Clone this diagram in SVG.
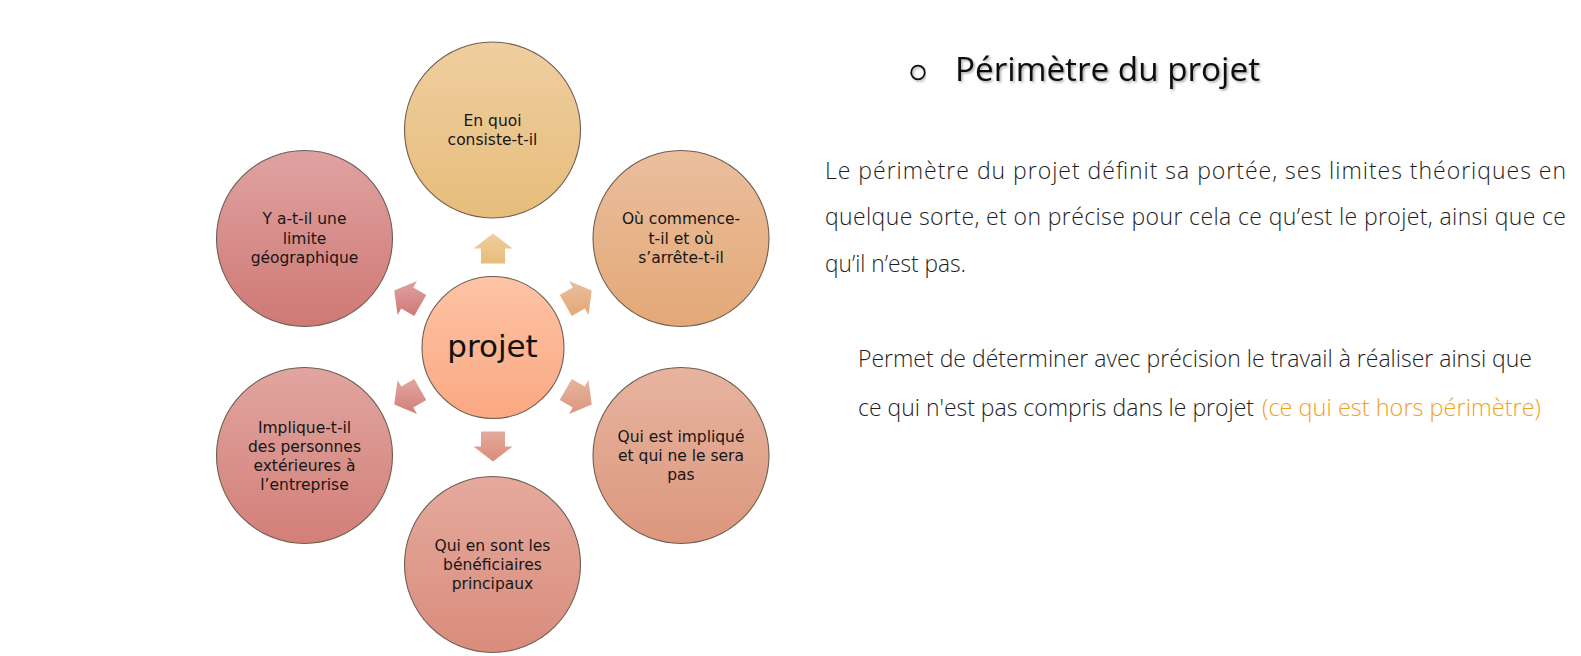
<svg xmlns="http://www.w3.org/2000/svg" width="1581" height="656" viewBox="0 0 1581 656">
<defs>
<linearGradient id="gTop" x1="0" y1="0" x2="0" y2="1"><stop offset="0" stop-color="#EFCE9F"/><stop offset="1" stop-color="#E6BD7B"/></linearGradient>
<linearGradient id="gTR" x1="0" y1="0" x2="0" y2="1"><stop offset="0" stop-color="#EBBE9D"/><stop offset="1" stop-color="#E3A877"/></linearGradient>
<linearGradient id="gBR" x1="0" y1="0" x2="0" y2="1"><stop offset="0" stop-color="#E7B49F"/><stop offset="1" stop-color="#DC967D"/></linearGradient>
<linearGradient id="gB" x1="0" y1="0" x2="0" y2="1"><stop offset="0" stop-color="#E5AA9D"/><stop offset="1" stop-color="#D98C7B"/></linearGradient>
<linearGradient id="gBL" x1="0" y1="0" x2="0" y2="1"><stop offset="0" stop-color="#E1A5A0"/><stop offset="1" stop-color="#D37F78"/></linearGradient>
<linearGradient id="gTL" x1="0" y1="0" x2="0" y2="1"><stop offset="0" stop-color="#DFA2A1"/><stop offset="1" stop-color="#CF7975"/></linearGradient>
<linearGradient id="gC" x1="0" y1="0" x2="0" y2="1"><stop offset="0" stop-color="#FDC4A6"/><stop offset="1" stop-color="#FBA882"/></linearGradient>
<filter id="shadow" x="-5%" y="-20%" width="110%" height="150%"><feDropShadow dx="1.5" dy="1.5" stdDeviation="0.8" flood-color="#000" flood-opacity="0.35"/></filter>
</defs>
<style>
.node circle{stroke:#6e5e52;stroke-width:1.1}
.lbl{font-family:"DejaVu Sans","Open Sans",sans-serif;font-size:15.5px;fill:#161616;text-anchor:middle}
.big{font-family:"DejaVu Sans","Open Sans",sans-serif;font-size:31px;fill:#111;text-anchor:middle}
.body{font-family:"Open Sans","Liberation Sans",sans-serif;font-weight:300;font-size:23px;fill:#1e1e1e}
.title{font-family:"Open Sans","Liberation Sans",sans-serif;font-size:32px;fill:#111}
</style>
<rect width="1581" height="656" fill="#ffffff"/>

<g id="connectors">
<polygon fill="url(#gTop)" points="481,263.5 481,248.5 473.5,248.5 493,233.5 512.5,248.5 505,248.5 505,263.5"/>
<polygon fill="url(#gTR)" points="559.75,295.11 572.74,287.61 568.99,281.11 591.73,290.5 588.49,314.89 584.74,308.39 571.75,315.89"/>
<polygon fill="url(#gBR)" points="571.75,379.11 584.74,386.61 588.49,380.11 591.73,404.5 568.99,413.89 572.74,407.39 559.75,399.89"/>
<polygon fill="url(#gB)" points="505,431.5 505,446.5 512.5,446.5 493,461.5 473.5,446.5 481,446.5 481,431.5"/>
<polygon fill="url(#gBL)" points="414.25,379.11 401.26,386.61 397.51,380.11 394.27,404.5 417.01,413.89 413.26,407.39 426.25,399.89"/>
<polygon fill="url(#gTL)" points="426.25,295.11 413.26,287.61 417.01,281.11 394.27,290.5 397.51,314.89 401.26,308.39 414.25,315.89"/>
</g>

<g id="node-center" class="node">
<circle cx="493" cy="347.5" r="71" fill="url(#gC)"/>
<text class="big" x="492.5" y="357">projet</text>
</g>

<g id="node-top" class="node">
<circle cx="492.5" cy="130" r="88" fill="url(#gTop)"/>
<text class="lbl" x="492.5" y="126">En quoi</text>
<text class="lbl" x="492.5" y="145">consiste-t-il</text>
</g>

<g id="node-top-right" class="node">
<circle cx="681" cy="238.5" r="88" fill="url(#gTR)"/>
<text class="lbl" x="681" y="224">Où commence-</text>
<text class="lbl" x="681" y="243.5">t-il et où</text>
<text class="lbl" x="681" y="263">s’arrête-t-il</text>
</g>

<g id="node-bottom-right" class="node">
<circle cx="681" cy="455.5" r="88" fill="url(#gBR)"/>
<text class="lbl" x="681" y="441.5">Qui est impliqué</text>
<text class="lbl" x="681" y="460.5">et qui ne le sera</text>
<text class="lbl" x="681" y="479.5">pas</text>
</g>

<g id="node-bottom" class="node">
<circle cx="492.5" cy="564.5" r="88" fill="url(#gB)"/>
<text class="lbl" x="492.5" y="550.5">Qui en sont les</text>
<text class="lbl" x="492.5" y="569.5">bénéficiaires</text>
<text class="lbl" x="492.5" y="588.5">principaux</text>
</g>

<g id="node-bottom-left" class="node">
<circle cx="304.5" cy="455.5" r="88" fill="url(#gBL)"/>
<text class="lbl" x="304.5" y="433">Implique-t-il</text>
<text class="lbl" x="304.5" y="452">des personnes</text>
<text class="lbl" x="304.5" y="471">extérieures à</text>
<text class="lbl" x="304.5" y="490">l’entreprise</text>
</g>

<g id="node-top-left" class="node">
<circle cx="304.5" cy="238.5" r="88" fill="url(#gTL)"/>
<text class="lbl" x="304.5" y="224">Y a-t-il une</text>
<text class="lbl" x="304.5" y="243.5">limite</text>
<text class="lbl" x="304.5" y="263">géographique</text>
</g>

<g id="text-panel">
<circle cx="918" cy="72.5" r="6.8" fill="none" stroke="#111" stroke-width="1.8" filter="url(#shadow)"/>
<text class="title" x="955" y="80.5" textLength="305" lengthAdjust="spacingAndGlyphs" filter="url(#shadow)">Périmètre du projet</text>
<text class="body" x="825" y="178.5" textLength="741" lengthAdjust="spacing">Le périmètre du projet définit sa portée, ses limites théoriques en</text>
<text class="body" x="825" y="225" textLength="741" lengthAdjust="spacing">quelque sorte, et on précise pour cela ce qu’est le projet, ainsi que ce</text>
<text class="body" x="825" y="271.5" textLength="141" lengthAdjust="spacingAndGlyphs">qu’il n’est pas.</text>
<text class="body" x="858" y="366.5" textLength="674" lengthAdjust="spacingAndGlyphs">Permet de déterminer avec précision le travail à réaliser ainsi que</text>
<text class="body" y="415.5"><tspan x="858" textLength="396" lengthAdjust="spacingAndGlyphs">ce qui n'est pas compris dans le projet</tspan><tspan x="1262" textLength="279" lengthAdjust="spacingAndGlyphs" fill="#F4A020">(ce qui est hors périmètre)</tspan></text>
</g>
</svg>
